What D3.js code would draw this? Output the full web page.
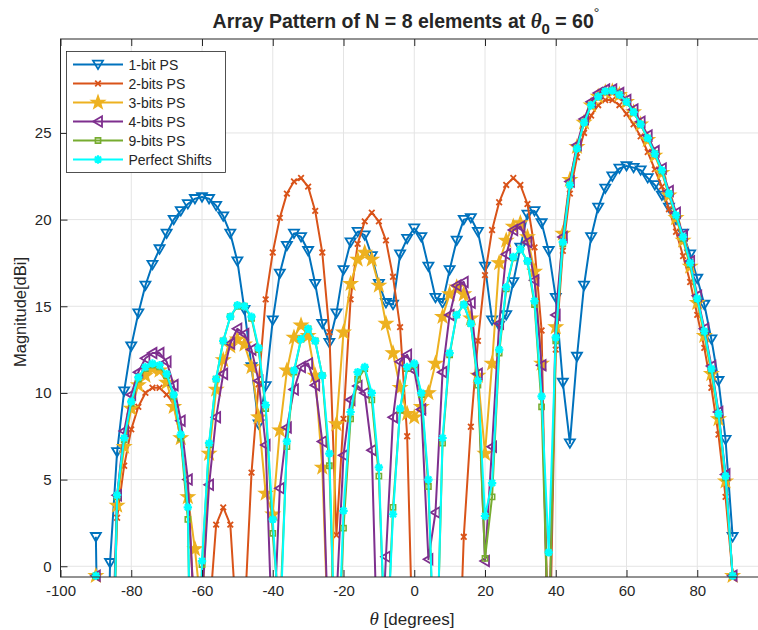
<!DOCTYPE html>
<html>
<head>
<meta charset="utf-8">
<script src="https://cdn.jsdelivr.net/npm/d3@7"></script>
<style>
  body { margin: 0; background: #fff; }
  svg { display: block; }
  text { font-family: "Liberation Sans", Arial, Helvetica, sans-serif; fill: #262626; }
</style>
</head>
<body>
<svg id="chart" width="758" height="630"></svg>
<script>
// Scan angles (degrees)
const theta = [
  -90,-88,-86,-84,-82,-80,-78,-76,-74,-72,
  -70,-68,-66,-64,-62,-60,-58,-56,-54,-52,
  -50,-48,-46,-44,-42,-40,-38,-36,-34,-32,
  -30,-28,-26,-24,-22,-20,-18,-16,-14,-12,
  -10,-8,-6,-4,-2,0,2,4,6,8,
  10,12,14,16,18,20,22,24,26,28,
  30,32,34,36,38,40,42,44,46,48,
  50,52,54,56,58,60,62,64,66,68,
  70,72,74,76,78,80,82,84,86,88,
  90
];

// Array pattern magnitude (dBi) for each phase-shifter resolution
const bit1 = [
  1.7,-25,0.2,6.6,10.1,12.7,14.6,16.2,17.4,18.3,
  19.2,20.0,20.5,20.9,21.2,21.3,21.2,20.8,20.2,19.2,
  17.6,14.8,11.5,8.2,10.4,14.2,16.9,18.5,19.2,19.0,
  18.2,16.3,14.0,12.9,14.6,17.1,18.7,19.3,19.1,17.9,
  16.3,15.2,15.1,18.0,18.9,19.5,19.0,17.3,15.5,15.2,
  17.1,18.8,20.0,20.1,19.3,17.3,14.2,13.9,14.5,16.4,
  18.4,20.3,20.5,19.8,18.2,15.5,10.6,7.1,12.1,16.2,
  19.0,20.7,21.8,22.5,22.95,23.1,23.0,22.85,22.4,22.0,
  21.4,20.7,20.0,19.2,18.0,16.6,15.1,13.1,10.7,7.3,
  1.7
];
const bit2 = [
  -0.55,-25,-10,2.8,5.8,7.9,9.2,10.0,10.3,10.3,
  9.9,9.4,7.3,4.0,-3,-12,-3,2.4,3.4,2.4,
  -4,-3,5.4,10.5,15.4,18.1,20.1,21.5,22.2,22.4,
  21.9,20.5,18.1,13.5,1.8,8.5,15.4,18.6,19.9,20.4,
  19.9,18.8,16.7,13.8,7.5,-8,-5,-3,-3,-4,
  -6,-10,1.7,8.05,13.0,16.8,19.4,21.0,22.0,22.4,
  22.0,20.9,18.4,13.6,-8,12.5,18.2,21.5,23.6,25.0,
  26.0,26.6,26.9,26.9,26.6,26.1,25.5,24.8,23.9,22.9,
  21.9,20.6,19.3,17.9,16.4,14.5,12.6,10.3,7.6,4.0,
  -0.55
];
const bit3 = [
  -0.55,-25,-10,3.5,6.9,9.1,10.45,11.0,11.4,11.3,
  10.6,9.2,7.4,4.0,1.0,-3,6.5,10.2,11.9,12.7,
  13.1,12.8,11.5,8.6,4.2,3.0,7.85,11.3,13.2,13.9,
  13.3,11.0,5.7,-6,8.2,13.5,16.3,17.7,18.1,17.7,
  16.2,14.0,12.3,10.3,8.8,8.6,9.2,10.0,11.7,14.4,
  15.7,16.1,15.7,14.3,11.0,6.5,11.7,17.5,18.8,19.6,
  19.8,19.0,17.0,11.7,-5,13.8,19.2,22.3,24.2,25.6,
  26.6,27.1,27.35,27.4,27.2,26.8,26.2,25.5,24.6,23.7,
  22.7,21.4,20.1,18.8,17.3,15.2,13.3,11.1,8.5,4.9,
  -0.55
];
const bit4 = [
  -0.55,-25,-10,4.1,7.8,9.9,11.2,12.0,12.3,12.3,
  11.8,10.45,8.4,5.0,-4,-2,4.7,8.6,11.1,12.85,
  13.7,13.4,12.5,10.7,7.0,-5,4.5,8.0,10.2,11.5,
  11.7,10.45,7.2,-6,-2,6.4,9.6,10.4,10.0,6.7,
  -8,0.55,8.6,11.8,12.2,11.3,9.05,0.4,3.1,11.2,
  14.5,16.2,16.4,15.2,11.1,0.3,6.9,14.0,18.0,19.4,
  19.6,18.7,16.5,11.6,-6,14.5,19.0,22.2,24.3,25.8,
  26.8,27.3,27.5,27.5,27.3,26.9,26.35,25.65,24.85,23.95,
  22.95,21.65,20.4,19.1,17.6,15.6,13.7,11.55,8.9,5.3,
  -0.55
];
const bit9 = [
  -0.55,-20,-15,4.0,7.3,9.4,10.8,11.4,11.6,11.5,
  11.0,9.8,7.4,2.7,-20,0.1,7.0,10.8,13.0,14.4,
  15.0,15.0,14.3,12.5,9.1,1.9,-3,6.9,11.2,13.1,
  13.7,13.0,11.0,5.8,-8,2.2,8.5,10.8,11.4,9.6,
  5.2,-6,3.4,9.0,11.4,11.6,9.9,4.6,-8,7.1,
  12.2,14.5,15.1,14.0,10.45,0.45,4.0,12.3,16.0,17.8,
  18.3,17.6,15.1,9.2,-5,13.0,18.6,22.0,24.1,25.6,
  26.6,27.1,27.4,27.45,27.2,26.8,26.2,25.5,24.7,23.8,
  22.8,21.5,20.2,18.9,17.4,15.4,13.5,11.3,8.7,5.1,
  -0.55
];
const perfect = [
  -0.55,-20,-15,4.1,7.4,9.5,10.9,11.5,11.7,11.6,
  11.1,9.9,7.6,3.4,-25,0.3,7.1,10.8,13.0,14.4,
  15.06,15.0,14.4,12.6,9.3,2.7,-4,7.2,11.3,13.1,
  13.7,13.0,11.0,6.5,-8,3.2,8.9,11.2,11.5,10.0,
  5.7,-6,3.0,9.1,11.5,11.7,10.0,5.0,-8,7.4,
  12.3,14.5,15.1,14.0,10.7,2.9,4.8,12.5,16.1,17.85,
  18.3,17.6,15.3,9.8,0.8,13.2,18.7,22.0,24.1,25.6,
  26.6,27.1,27.4,27.45,27.2,26.8,26.2,25.5,24.7,23.8,
  22.85,21.5,20.25,19.0,17.5,15.45,13.56,11.4,8.8,5.2,
  -0.55
];

const seriesNames = ["1-bit PS", "2-bits PS", "3-bits PS", "4-bits PS", "9-bits PS", "Perfect Shifts"];
const xTicks = [-100, -80, -60, -40, -20, 0, 20, 40, 60, 80];
const yTicks = [0, 5, 10, 15, 20, 25];

// Marker glyphs (MATLAB-style)
const star = (() => {
  const pts = [];
  for (let i = 0; i < 10; i++) {
    const r = i % 2 === 0 ? 7.2 : 2.9;
    const a = -Math.PI / 2 + i * Math.PI / 5;
    pts.push([r * Math.cos(a), r * Math.sin(a)]);
  }
  return "M" + pts.map(p => p[0].toFixed(2) + "," + p[1].toFixed(2)).join("L") + "Z";
})();
const glyphs = {
  triDown: { d: "M-5,-3.8L5,-3.8L0,4.6Z", fill: "none", sw: 1.8 },
  cross:   { d: "M-2.8,-2.8L2.8,2.8M-2.8,2.8L2.8,-2.8", fill: "none", sw: 1.8 },
  star:    { d: star, fill: "currentColor", sw: 1.2 },
  triLeft: { d: "M4,-5.2L4,5.2L-4.8,0Z", fill: "none", sw: 1.8 },
  square:  { d: "M-2.6,-2.6H2.6V2.6H-2.6Z", fill: "none", sw: 1.6 },
  aster:   { d: "M-4.2,0H4.2M0,-4.2V4.2M-3,-3L3,3M-3,3L3,-3", fill: "none", sw: 2.2 }
};

const series = [
  { name: seriesNames[0], values: bit1,    color: "#0072BD", glyph: "triDown" },
  { name: seriesNames[1], values: bit2,    color: "#D95319", glyph: "cross" },
  { name: seriesNames[2], values: bit3,    color: "#EDB120", glyph: "star" },
  { name: seriesNames[3], values: bit4,    color: "#7E2F8E", glyph: "triLeft" },
  { name: seriesNames[4], values: bit9,    color: "#77AC30", glyph: "square" },
  { name: seriesNames[5], values: perfect, color: "#00FFFF", glyph: "aster" }
];

const X0 = 60.5, X1 = 768, Y0 = 39, Y1 = 577;
const x = d3.scaleLinear().domain([-100, 100]).range([X0, X1]);
const y = d3.scaleLinear().domain([-0.62, 30.42]).range([Y1, Y0]);

const svg = d3.select("#chart");
svg.append("rect").attr("width", 758).attr("height", 630).attr("fill", "#fff");

svg.append("defs").append("clipPath").attr("id", "plotClip")
  .append("rect").attr("x", X0).attr("y", Y0).attr("width", X1 - X0).attr("height", Y1 - Y0);

// Grid
const grid = svg.append("g").attr("stroke", "#e4e4e4").attr("stroke-width", 1);
grid.selectAll(".gx").data(xTicks).join("line")
  .attr("x1", d => x(d)).attr("x2", d => x(d)).attr("y1", Y0).attr("y2", Y1);
grid.selectAll(".gy").data(yTicks).join("line")
  .attr("x1", X0).attr("x2", X1).attr("y1", d => y(d)).attr("y2", d => y(d));

// Curves
const line = d3.line().x((d, i) => x(theta[i])).y(d => y(d));
const plot = svg.append("g");
series.forEach(s => {
  plot.append("path")
    .attr("clip-path", "url(#plotClip)")
    .attr("d", line(s.values))
    .attr("fill", "none")
    .attr("stroke", s.color)
    .attr("stroke-width", 2)
    .attr("stroke-linejoin", "round");
  const g = glyphs[s.glyph];
  const [lo, hi] = y.domain();
  plot.append("g").style("color", s.color)
    .selectAll("path")
    .data(s.values.map((v, i) => [theta[i], v]).filter(p => p[1] >= lo && p[1] <= hi))
    .join("path")
    .attr("transform", p => `translate(${x(p[0])},${y(p[1])})`)
    .attr("d", g.d)
    .attr("fill", g.fill)
    .attr("stroke", s.color)
    .attr("stroke-width", g.sw)
    .attr("stroke-linejoin", "miter");
});

// Axes (ticks pointing inward, box on)
const axCol = "#262626";
const xAxis = svg.append("g").attr("transform", `translate(0,${Y1})`)
  .call(d3.axisBottom(x).tickValues(xTicks).tickSizeInner(-7).tickSizeOuter(0).tickPadding(8));
const xAxisTop = svg.append("g").attr("transform", `translate(0,${Y0})`)
  .call(d3.axisTop(x).tickValues(xTicks).tickSizeInner(-7).tickSizeOuter(0).tickFormat(""));
const yAxis = svg.append("g").attr("transform", `translate(${X0},0)`)
  .call(d3.axisLeft(y).tickValues(yTicks).tickSizeInner(-7).tickSizeOuter(0).tickPadding(9));
[xAxis, xAxisTop, yAxis].forEach(a => {
  a.select(".domain").remove();
  a.selectAll(".tick line").attr("stroke", axCol).attr("stroke-width", 1);
  a.selectAll(".tick text").attr("fill", axCol).style("font-size", "15px")
    .style("font-family", "'Liberation Sans', Arial, sans-serif");
});
xAxis.selectAll(".tick text").text(d => d < 0 ? "-" + Math.abs(d) : d);
svg.append("rect").attr("x", X0).attr("y", Y0).attr("width", X1 - X0).attr("height", Y1 - Y0)
  .attr("fill", "none").attr("stroke", axCol).attr("stroke-width", 1);

// Title
const title = svg.append("text").attr("x", 406).attr("y", 28).attr("text-anchor", "middle")
  .style("font-size", "19.5px").style("font-weight", "bold");
title.append("tspan").text("Array Pattern of N = 8 elements at ");
title.append("tspan").style("font-style", "italic").style("font-family", "'Liberation Serif', serif").style("font-size", "21px").text("θ");
title.append("tspan").attr("dy", 6).style("font-size", "15px").text("0");
title.append("tspan").attr("dy", -6).text(" = 60");
title.append("tspan").attr("dy", -10).style("font-size", "14px").style("font-weight", "normal").text("°");

// Axis labels
const xl = svg.append("text").attr("x", 412).attr("y", 625).attr("text-anchor", "middle").style("font-size", "17px");
xl.append("tspan").style("font-style", "italic").style("font-family", "'Liberation Serif', serif").style("font-size", "19px").text("θ");
xl.append("tspan").text(" [degrees]");
svg.append("text").attr("transform", `translate(26,312) rotate(-90)`)
  .attr("text-anchor", "middle").style("font-size", "16.5px").text("Magnitude[dBi]");

// Legend
const lg = svg.append("g");
lg.append("rect").attr("x", 66.5).attr("y", 51.5).attr("width", 159).attr("height", 121)
  .attr("fill", "#fff").attr("stroke", axCol).attr("stroke-width", 0.8);
series.forEach((s, i) => {
  const cy = 64.5 + i * 19;
  lg.append("line").attr("x1", 73).attr("x2", 123).attr("y1", cy).attr("y2", cy)
    .attr("stroke", s.color).attr("stroke-width", 2);
  const g = glyphs[s.glyph];
  lg.append("path").style("color", s.color).attr("transform", `translate(98,${cy})`).attr("d", g.d)
    .attr("fill", g.fill).attr("stroke", s.color).attr("stroke-width", g.sw);
  lg.append("text").attr("x", 128.5).attr("y", cy + 5).style("font-size", "14px").text(s.name);
});
</script>
</body>
</html>
